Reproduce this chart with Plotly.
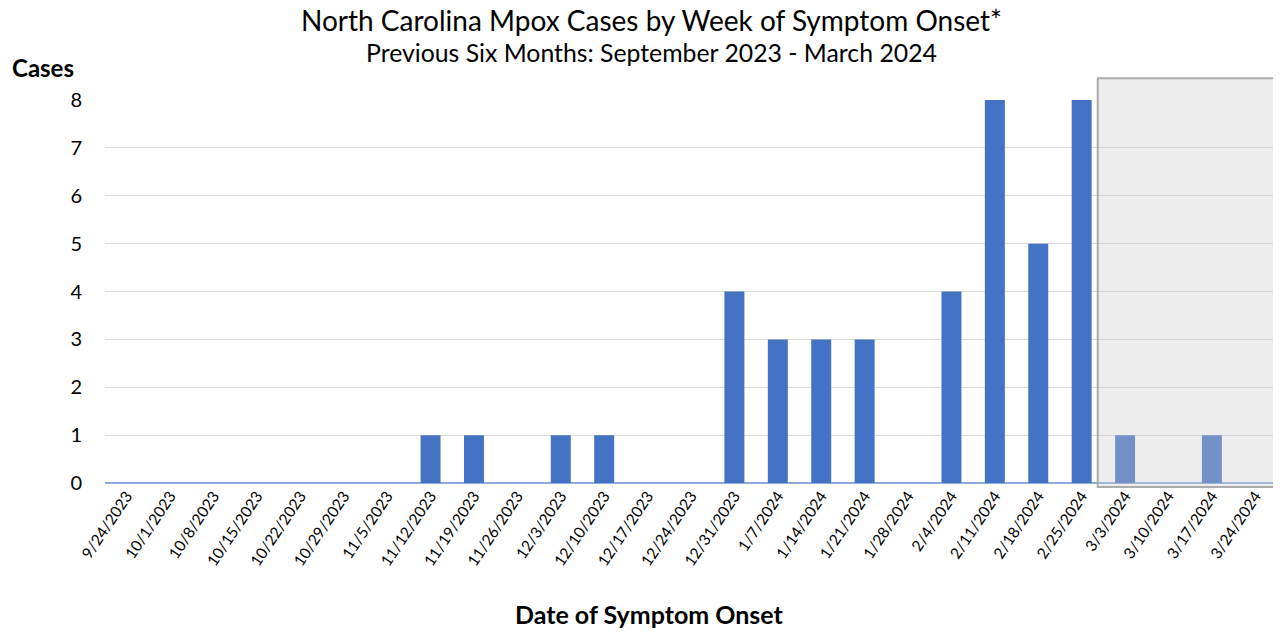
import plotly.graph_objects as go

weeks = ["9/24/2023", "10/1/2023", "10/8/2023", "10/15/2023", "10/22/2023", "10/29/2023",
         "11/5/2023", "11/12/2023", "11/19/2023", "11/26/2023", "12/3/2023", "12/10/2023",
         "12/17/2023", "12/24/2023", "12/31/2023", "1/7/2024", "1/14/2024", "1/21/2024",
         "1/28/2024", "2/4/2024", "2/11/2024", "2/18/2024", "2/25/2024", "3/3/2024",
         "3/10/2024", "3/17/2024", "3/24/2024"]
cases = [0, 0, 0, 0, 0, 0, 0, 1, 1, 0, 1, 1, 0, 0, 4, 3, 3, 3, 0, 4, 8, 5, 8, 1, 0, 1, 0]
y_ticks = [0, 1, 2, 3, 4, 5, 6, 7, 8]

FONT = "Lato"

fig = go.Figure()
fig.add_trace(go.Bar(x=weeks, y=cases, marker=dict(color="#4472C4", line=dict(width=0)),
                     width=0.46, hoverinfo="x+y"))

# shaded "preliminary data" box
fig.add_shape(type="rect", xref="paper", yref="paper", x0=0.847, x1=0.998, y0=-0.0104, y1=1.057,
              fillcolor="rgba(204,204,204,0.35)", line=dict(color="#ABABAB", width=2),
              layer="above")

fig.update_layout(
    width=1273, height=624,
    margin=dict(l=97, r=4, t=92, b=149, autoexpand=False),
    plot_bgcolor="white", paper_bgcolor="white",
    showlegend=False,
    xaxis=dict(type="category", tickangle=-56, tickfont=dict(family=FONT, size=15.5, color="#000"),
               showgrid=False, showline=False, ticks="", range=[-0.5, 26.5], automargin=False),
    yaxis=dict(range=[0, 8], tickvals=y_ticks, tickfont=dict(family=FONT, size=20, color="#000"),
               showgrid=True, gridcolor="#D9D9D9", gridwidth=1, zeroline=True,
               zerolinecolor="#8FAADC", zerolinewidth=2, ticks="outside", ticklen=18,
               tickcolor="rgba(0,0,0,0)", showline=False, automargin=False),
    bargap=0.54,
)

fig.add_annotation(text="North Carolina Mpox Cases by Week of Symptom Onset*",
                   xref="paper", yref="paper", x=0.466, y=1.21, xanchor="center", yanchor="middle",
                   showarrow=False, font=dict(family=FONT, size=28, color="#000"))
fig.add_annotation(text="Previous Six Months: September 2023 - March 2024",
                   xref="paper", yref="paper", x=0.4667, y=1.123, xanchor="center", yanchor="middle",
                   showarrow=False, font=dict(family=FONT, size=24.8, color="#000"))
fig.add_annotation(text="<b>Cases</b>", xref="paper", yref="paper", x=-0.081, y=1.0836,
                   xanchor="left", yanchor="middle", showarrow=False,
                   font=dict(family=FONT, size=24, color="#000"))
fig.add_annotation(text="<b>Date of Symptom Onset</b>", xref="paper", yref="paper", x=0.465, y=-0.342,
                   xanchor="center", yanchor="middle", showarrow=False,
                   font=dict(family=FONT, size=25, color="#000"))

fig.write_html("out.html")
